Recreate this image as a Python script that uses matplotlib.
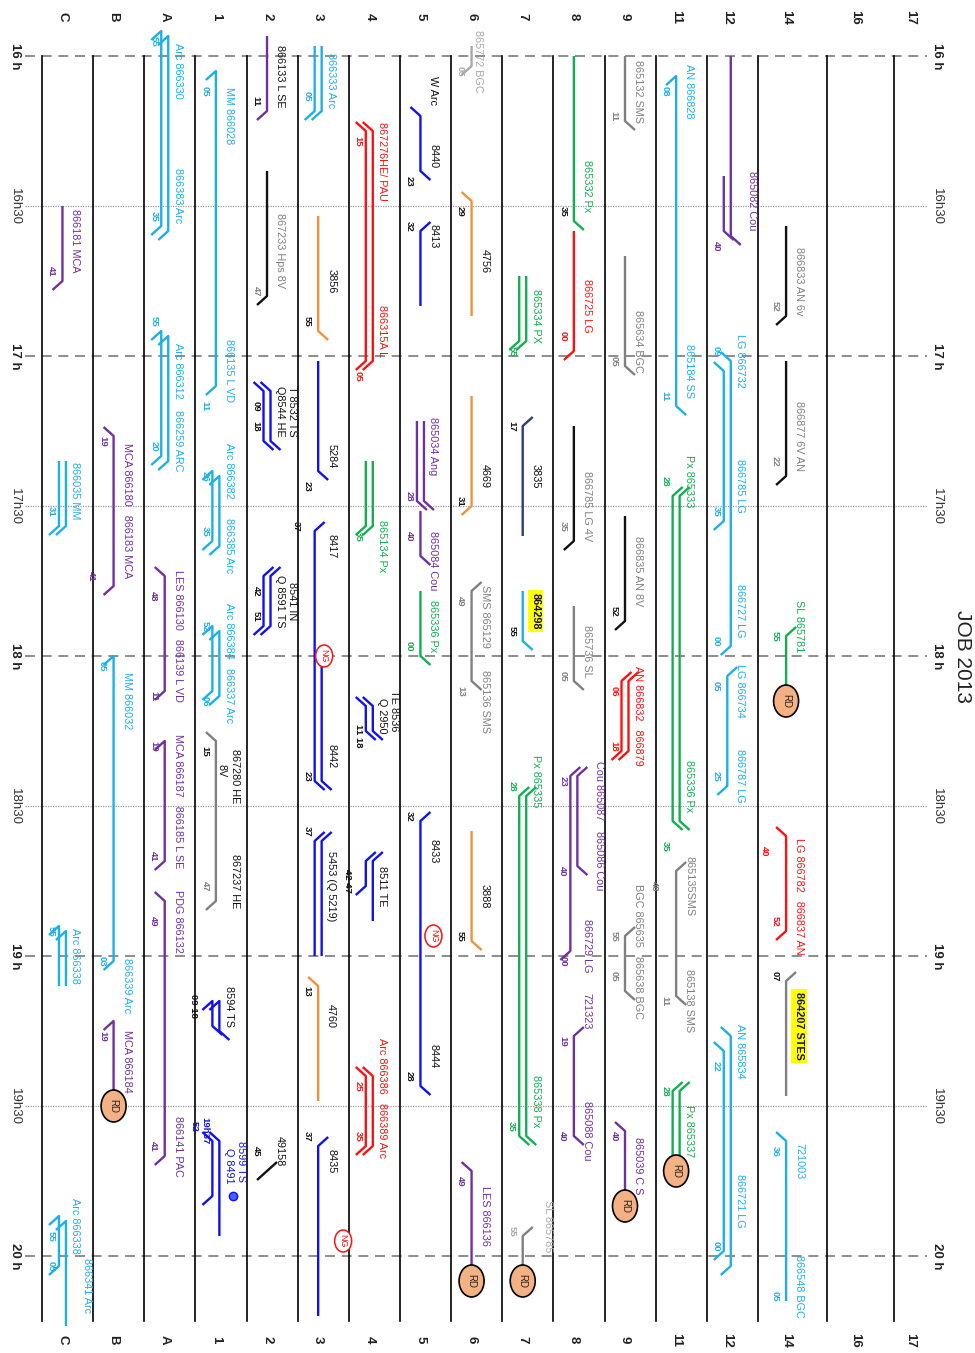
import matplotlib
matplotlib.use("Agg")
import matplotlib.pyplot as plt
from matplotlib.patches import Ellipse

plt.rcParams['font.family'] = ['Liberation Sans', 'DejaVu Sans']

# ---------------- data ----------------
tracks = ['C', 'B', 'A', '1', '2', '3', '4', '5', '6', '7', '8', '9', '11', '12', '14', '16', '17']
hours = ['16:00', '17:00', '18:00', '19:00', '20:00']
hour_labels = ['16 h', '17 h', '18 h', '19 h', '20 h']
half_hours = ['16:30', '17:30', '18:30', '19:30']
half_labels = ['16h30', '17h30', '18h30', '19h30']
title = 'JOB 2013'
grid_end = '20:13'

# (track, lane, start, end, colour, start hook, end hook)
trains = [
    ('C', 0, '16:30', '16:45', 'pu', '', 'dl'),
    ('C', -1, '17:21', '17:34', 'cy', '', 'dl'),
    ('C', 1, '17:21', '17:34', 'cy', '', 'dl'),
    ('C', -1, '18:54', '19:06', 'cy', 'dl', ''),
    ('C', 1, '18:55', '19:06', 'cy', 'dl', ''),
    ('C', -1, '19:52', '20:02', 'cy', 'dl', 'dl'),
    ('C', 1, '19:53', '20:14', 'cy', 'dl', ''),
    ('B', 0, '17:16', '17:46', 'pu', 'ul', 'dl'),
    ('B', 0, '18:00', '19:01', 'cy', 'dl', 'dl'),
    ('B', 0, '19:13', '19:30', 'pu', 'dl', ''),
    ('A', -1, '15:55', '16:34', 'cy', 'dl', 'dl'),
    ('A', 1, '15:56', '16:35', 'cy', 'dl', 'dl'),
    ('A', -1, '16:55', '17:20', 'cy', 'dl', 'dl'),
    ('A', 1, '16:56', '17:21', 'cy', 'dl', 'dl'),
    ('A', 0, '17:44', '18:07', 'pu', 'ul', 'dl'),
    ('A', 0, '18:17', '18:41', 'pu', 'dl', 'dl'),
    ('A', 0, '18:49', '19:40', 'pu', 'ul', 'dl'),
    ('1', 0, '16:03', '17:06', 'cy', 'dl', 'dl'),
    ('1', -1, '17:23', '17:37', 'cy', 'dl', 'dl'),
    ('1', 1, '17:24', '17:38', 'cy', 'dl', 'dl'),
    ('1', -1, '17:54', '18:07', 'cy', 'dl', 'dl'),
    ('1', 1, '17:55', '18:08', 'cy', 'dl', 'dl'),
    ('1', 0, '18:17', '18:49', 'gy', 'ul', 'dl'),
    ('1', -1, '19:09', '19:14', 'bl', 'dl', 'dr'),
    ('1', 1, '19:09', '19:15', 'bl', 'dl', 'dr'),
    ('1', -1, '19:37', '19:48', 'bl', 'ul', 'dl'),
    ('1', 1, '19:37', '19:56', 'bl', 'ul', ''),
    ('2', 0, '15:56', '16:11', 'pu', '', 'dl'),
    ('2', 0, '16:23', '16:48', 'bk', '', 'dl'),
    ('2', -1, '17:07', '17:17', 'bl', 'ul', 'dr'),
    ('2', 1, '17:07', '17:17', 'bl', 'ul', 'dr'),
    ('2', -1, '17:44', '17:54', 'bl', 'ur', 'dl'),
    ('2', 1, '17:44', '17:54', 'bl', 'ur', 'dl'),
    ('2', 0, '19:43', '19:43', 'bk', 'ur', 'dl'),
    ('3', -1, '15:58', '16:11', 'cy', '', 'dl'),
    ('3', 1, '15:58', '16:11', 'cy', '', 'dl'),
    ('3', 0, '16:32', '16:55', 'or', '', 'dr'),
    ('3', 0, '17:01', '17:23', 'bl', '', 'dr'),
    ('3', -1, '17:35', '18:25', 'bl', 'ur', 'dr'),
    ('3', 1, '18:00', '18:25', 'bl', '', 'dr'),
    ('3', -1, '18:37', '19:00', 'bl', 'ur', ''),
    ('3', 1, '18:37', '19:00', 'bl', 'ur', ''),
    ('3', 0, '19:06', '19:29', 'or', 'ul', ''),
    ('3', 0, '19:38', '20:12', 'bl', 'ur', ''),
    ('4', -1, '16:15', '17:01', 're', 'ul', 'dl'),
    ('4', 1, '16:15', '17:01', 're', 'ul', 'dl'),
    ('4', -1, '17:21', '17:34', 'gr', '', 'dl'),
    ('4', 1, '17:21', '17:34', 'gr', '', 'dl'),
    ('4', -1, '18:10', '18:15', 'bl', 'ul', 'dr'),
    ('4', 1, '18:10', '18:15', 'bl', 'ul', 'dr'),
    ('4', -1, '18:41', '18:46', 'bl', 'ur', 'dl'),
    ('4', 1, '18:41', '18:53', 'bl', 'ur', ''),
    ('4', -1, '19:24', '19:38', 're', 'ul', 'dl'),
    ('4', 1, '19:24', '19:38', 're', 'ul', 'dl'),
    ('5', 0, '16:12', '16:23', 'bl', 'ul', 'dr'),
    ('5', 0, '16:35', '16:50', 'bl', 'ur', ''),
    ('5', -1, '17:13', '17:29', 'pu', '', 'dr'),
    ('5', 1, '17:13', '17:29', 'pu', '', 'dr'),
    ('5', 0, '17:31', '17:40', 'pu', '', 'dr'),
    ('5', 0, '17:47', '18:00', 'gr', '', 'dr'),
    ('5', 0, '18:33', '19:26', 'bl', 'ur', 'dr'),
    ('6', 0, '15:58', '16:02', 'lg', '', 'dl'),
    ('6', 0, '16:29', '16:52', 'or', 'ul', ''),
    ('6', 0, '17:08', '17:30', 'or', '', 'dl'),
    ('6', 0, '17:47', '18:05', 'gy', 'ur', 'dr'),
    ('6', 0, '18:35', '18:57', 'or', '', 'dr'),
    ('6', 0, '19:43', '20:05', 'pu', 'ul', ''),
    ('7', -1, '16:44', '16:57', 'gr', '', 'dl'),
    ('7', 1, '16:44', '16:57', 'gr', '', 'dl'),
    ('7', 0, '17:14', '17:36', 'nv', 'ur', ''),
    ('7', 0, '17:47', '17:57', 'cy', '', 'dr'),
    ('7', -1, '18:28', '19:36', 'gr', 'ur', 'dr'),
    ('7', 1, '18:28', '19:36', 'gr', 'ur', 'dr'),
    ('7', 0, '19:56', '20:05', 'gy', 'ur', ''),
    ('8', 0, '16:00', '16:33', 'gr', '', 'dr'),
    ('8', 0, '16:35', '16:59', 're', '', 'dl'),
    ('8', 0, '17:14', '17:37', 'bk', '', 'dl'),
    ('8', 0, '17:50', '18:05', 'gy', '', 'dr'),
    ('8', 1, '18:24', '18:42', 'pu', 'ur', 'dr'),
    ('8', -1, '18:24', '18:59', 'pu', 'ur', 'dl'),
    ('8', 0, '19:16', '19:36', 'pu', 'ur', 'dr'),
    ('9', 0, '16:00', '16:13', 'gy', '', 'dr'),
    ('9', 0, '16:40', '17:02', 'gy', '', 'dr'),
    ('9', 0, '17:32', '17:53', 'bk', '', 'dl'),
    ('9', -1, '18:05', '18:19', 're', 'ur', 'dl'),
    ('9', 1, '18:05', '18:19', 're', 'ur', 'dl'),
    ('9', 0, '18:56', '19:07', 'gy', 'ur', 'dr'),
    ('9', 0, '19:35', '19:50', 'pu', 'ul', ''),
    ('11', 0, '16:04', '17:10', 'cy', 'dl', 'dr'),
    ('11', -1, '17:28', '18:33', 'gr', 'ur', 'dr'),
    ('11', 1, '17:28', '18:33', 'gr', 'ur', 'dr'),
    ('11', 0, '18:43', '19:08', 'gy', 'ur', 'dr'),
    ('11', -1, '19:27', '19:43', 'gr', 'ur', ''),
    ('11', 1, '19:27', '19:43', 'gr', 'ur', ''),
    ('12', 1, '16:00', '16:36', 'pu', '', 'dr'),
    ('12', -1, '16:24', '16:35', 'pu', '', 'dr'),
    ('12', -1, '17:03', '17:33', 'cy', 'ul', 'dl'),
    ('12', 1, '17:01', '17:58', 'cy', 'ul', 'dl'),
    ('12', 0, '18:04', '18:26', 'cy', 'ur', 'dl'),
    ('12', -1, '19:19', '19:59', 'cy', 'ul', 'dl'),
    ('12', 1, '19:16', '20:02', 'cy', 'ul', 'dl'),
    ('14', 0, '16:34', '16:52', 'bk', '', 'dl'),
    ('14', 0, '17:01', '17:24', 'bk', '', 'dl'),
    ('14', 0, '17:56', '18:09', 'gr', 'ur', ''),
    ('14', 0, '18:36', '18:55', 're', 'ul', 'dl'),
    ('14', 0, '19:05', '19:28', 'gy', 'ur', ''),
    ('14', 0, '19:37', '20:09', 'cy', 'ul', ''),
]

# (track, time, text, colour, side)
names = [
    ('C', '16:37', '866181 MCA', 'pu', 'R'),
    ('C', '17:27', '866035 MM', 'cy', 'R'),
    ('C', '19:00', 'Arc 866338', 'cy', 'R'),
    ('C', '19:54', 'Arc 866338', 'cy', 'R'),
    ('C', '20:06', '866341 Arc', 'cy', 'RR'),
    ('B', '17:31', 'MCA 866180   866183 MCA', 'pu', 'R'),
    ('B', '18:09', 'MM 866032', 'cy', 'R'),
    ('B', '19:06', '866339 Arc', 'cy', 'R'),
    ('B', '19:21', 'MCA 866184', 'pu', 'R'),
    ('A', '16:03', 'Arc 866330', 'cy', 'R'),
    ('A', '16:28', '866383 Arc', 'cy', 'R'),
    ('A', '17:03', 'Arc 866312', 'cy', 'R'),
    ('A', '17:17', '866259 ARC', 'cy', 'R'),
    ('A', '17:56', 'LES 866130   866139 L VD', 'pu', 'R'),
    ('A', '18:29', 'MCA 866187   866185 L SE', 'pu', 'R'),
    ('A', '18:53', 'PDG 866132', 'pu', 'R'),
    ('A', '19:38', '866141 PAC', 'pu', 'R'),
    ('1', '16:12', 'MM 866028', 'cy', 'R'),
    ('1', '17:03', '866135 L VD', 'cy', 'R'),
    ('1', '17:23', 'Arc 866382', 'cy', 'R'),
    ('1', '17:38', '866385 Arc', 'cy', 'R'),
    ('1', '17:55', 'Arc 866384', 'cy', 'R'),
    ('1', '18:08', '866337 Arc', 'cy', 'R'),
    ('1', '18:24', '867280 HE', 'bk', 'RM'),
    ('1', '18:23', '8V', 'bk', 'S'),
    ('1', '18:45', '867237 HE', 'bk', 'RM'),
    ('1', '19:10', '8594 TS', 'bk', 'R'),
    ('1', '19:41', '8599 TS', 'bl', 'RR'),
    ('1', '19:42', 'Q 8491', 'bl', 'R'),
    ('2', '16:04', '866133 L SE', 'bk', 'R'),
    ('2', '16:39', '867233 Hps 8V', 'gy', 'R'),
    ('2', '17:11', 'Q8544 HE', 'bk', 'R'),
    ('2', '17:11', 'T 8532 TS', 'bk', 'RR'),
    ('2', '17:49', 'Q 8591 TS', 'bk', 'R'),
    ('2', '17:49', '8541 IN', 'bk', 'RR'),
    ('2', '19:39', '49158', 'bk', 'R'),
    ('3', '16:05', '866333 Arc', 'cy', 'R'),
    ('3', '16:45', '3856', 'bk', 'R'),
    ('3', '17:20', '5284', 'bk', 'R'),
    ('3', '17:38', '8417', 'bk', 'R'),
    ('3', '18:20', '8442', 'bk', 'R'),
    ('3', '18:46', '5453 (Q 5219)', 'bk', 'R'),
    ('3', '19:12', '4760', 'bk', 'R'),
    ('3', '19:41', '8435', 'bk', 'R'),
    ('4', '16:21', '867276HE/ PAU', 're', 'R'),
    ('4', '16:55', '866315A L', 're', 'R'),
    ('4', '17:38', '865134 Px', 'gr', 'R'),
    ('4', '18:11', 'TE 8536', 'bk', 'RR'),
    ('4', '18:12', 'Q 2950', 'bk', 'R'),
    ('4', '18:46', '8511 TE', 'bk', 'R'),
    ('4', '19:22', 'Arc 866386', 're', 'R'),
    ('4', '19:35', '866389 Arc', 're', 'R'),
    ('5', '16:07', 'W Arc', 'bk', 'R'),
    ('5', '16:20', '8440', 'bk', 'R'),
    ('5', '16:36', '8413', 'bk', 'R'),
    ('5', '17:18', '865034 Ang', 'pu', 'R'),
    ('5', '17:41', '865084 Cou', 'pu', 'R'),
    ('5', '17:54', '865336 Px', 'gr', 'R'),
    ('5', '18:39', '8433', 'bk', 'R'),
    ('5', '19:20', '8444', 'bk', 'R'),
    ('6', '16:01', '865772 BGC', 'lg', 'S'),
    ('6', '16:41', '4756', 'bk', 'R'),
    ('6', '17:24', '4669', 'bk', 'R'),
    ('6', '17:52', 'SMS 865129', 'gy', 'R'),
    ('6', '18:09', '865136 SMS', 'gy', 'R'),
    ('6', '18:48', '3888', 'bk', 'R'),
    ('6', '19:52', 'LES 866136', 'pu', 'R'),
    ('7', '16:52', '865334 PX', 'gr', 'R'),
    ('7', '17:24', '3835', 'bk', 'R'),
    ('7', '18:25', 'Px 865335', 'gr', 'R'),
    ('7', '19:29', '865338 Px', 'gr', 'R'),
    ('7', '19:54', 'SL 865785', 'lg', 'RR'),
    ('8', '16:26', '865332 Px', 'gr', 'R'),
    ('8', '16:50', '866725 LG', 're', 'R'),
    ('8', '17:30', '866785 LG 4V', 'gy', 'R'),
    ('8', '17:59', '865736 SL', 'gy', 'R'),
    ('8', '18:27', 'Cou 865087', 'pu', 'RR'),
    ('8', '18:41', '865086 Cou', 'pu', 'RR'),
    ('8', '18:58', '866729 LG', 'pu', 'R'),
    ('8', '19:11', '721323', 'pu', 'R'),
    ('8', '19:35', '865088 Cou', 'pu', 'R'),
    ('9', '16:07', '865132 SMS', 'gy', 'R'),
    ('9', '16:57', '865634 BGC', 'gy', 'R'),
    ('9', '17:43', '866835 AN 8V', 'gy', 'R'),
    ('9', '18:12', 'AN 866832   866879', 're', 'R'),
    ('9', '18:59', 'BGC 865635   865638 BGC', 'gy', 'R'),
    ('9', '19:42', '865039 C S', 'pu', 'R'),
    ('11', '16:07', 'AN 866828', 'cy', 'R'),
    ('11', '17:03', '865184 SS', 'cy', 'R'),
    ('11', '17:25', 'Px 865333', 'gr', 'R'),
    ('11', '18:26', '865336 Px', 'gr', 'R'),
    ('11', '18:46', '865135SMS', 'gy', 'R'),
    ('11', '19:09', '865138 SMS', 'gy', 'R'),
    ('11', '19:35', 'Px 865337', 'gr', 'R'),
    ('12', '16:29', '865082 Cou', 'pu', 'RR'),
    ('12', '17:01', 'LG 866732', 'cy', 'R'),
    ('12', '17:26', '866785 LG', 'cy', 'R'),
    ('12', '17:51', '866727 LG', 'cy', 'R'),
    ('12', '18:07', 'LG 866734', 'cy', 'R'),
    ('12', '18:24', '866787 LG', 'cy', 'R'),
    ('12', '19:19', 'AN 865834', 'cy', 'R'),
    ('12', '19:49', '866721 LG', 'cy', 'R'),
    ('14', '16:45', '866833 AN 6v', 'gy', 'R'),
    ('14', '17:16', '866877 6V AN', 'gy', 'R'),
    ('14', '17:54', 'SL 865781', 'gr', 'R'),
    ('14', '18:48', 'LG 866782   866837 AN', 're', 'R'),
    ('14', '19:41', '721003', 'cy', 'R'),
    ('14', '20:06', '866548 BGC', 'cy', 'R'),
]

# highlighted names (yellow box)
highlights = [
    ('7', '17:51', '864298', 'bk', 'R'),
    ('14', '19:14', '864207 STES', 'bk', 'R'),
]

# minute marks: (track, time, text, colour, side)
minutes = [
    ('C', '16:43', '41', 'pu', 'L'), ('C', '17:31', '31', 'cy', 'L'),
    ('C', '18:55', '55', 'cy', 'L'), ('C', '19:56', '55', 'cy', 'L'),
    ('C', '20:02', '05', 'cy', 'L'),
    ('B', '17:17', '19', 'pu', 'L'), ('B', '17:44', '41', 'pu', 'LL'),
    ('B', '18:02', '05', 'cy', 'L'), ('B', '19:01', '03', 'cy', 'L'),
    ('B', '19:16', '19', 'pu', 'L'),
    ('A', '15:57', '55', 'cy', 'L'), ('A', '16:32', '35', 'cy', 'L'),
    ('A', '16:53', '55', 'cy', 'L'), ('A', '17:18', '20', 'cy', 'L'),
    ('A', '17:48', '48', 'pu', 'L'), ('A', '18:08', '11', 'pu', 'L'),
    ('A', '18:18', '19', 'pu', 'L'), ('A', '18:40', '41', 'pu', 'L'),
    ('A', '18:53', '49', 'pu', 'L'), ('A', '19:38', '41', 'pu', 'L'),
    ('1', '16:07', '05', 'cy', 'L'), ('1', '17:10', '11', 'cy', 'L'),
    ('1', '17:24', '26', 'cy', 'L'), ('1', '17:35', '35', 'cy', 'L'),
    ('1', '17:54', '52', 'cy', 'L'), ('1', '18:09', '06', 'cy', 'L'),
    ('1', '18:19', '15', 'bk', 'L'), ('1', '18:46', '47', 'gy', 'L'),
    ('1', '19:10', '09 18', 'bk', 'LL'), ('1', '19:35', '19h37', 'bl', 'L'),
    ('1', '19:34', '52', 'bl', 'LL'),
    ('2', '16:09', '11', 'bk', 'L'), ('2', '16:47', '47', 'gy', 'L'),
    ('2', '17:10', '09', 'bk', 'L'), ('2', '17:14', '18', 'bk', 'L'),
    ('2', '17:47', '42', 'bk', 'L'), ('2', '17:52', '51', 'bk', 'L'),
    ('2', '19:39', '45', 'bk', 'L'),
    ('3', '16:08', '05', 'cy', 'L'), ('3', '16:53', '55', 'bk', 'L'),
    ('3', '17:26', '23', 'bk', 'L'), ('3', '17:34', '37', 'bk', 'LL'),
    ('3', '18:24', '23', 'bk', 'L'), ('3', '18:35', '37', 'bk', 'L'),
    ('3', '19:07', '13', 'bk', 'L'), ('3', '19:36', '37', 'bk', 'L'),
    ('4', '16:17', '15', 're', 'L'), ('4', '17:04', '05', 're', 'L'),
    ('4', '17:36', '35', 'gr', 'L'), ('4', '18:16', '11 18', 'bk', 'L'),
    ('4', '18:45', '42 47', 'bk', 'LL'), ('4', '19:26', '25', 're', 'L'),
    ('4', '19:36', '35', 're', 'L'),
    ('5', '16:25', '23', 'bk', 'L'), ('5', '16:34', '32', 'bk', 'L'),
    ('5', '17:28', '28', 'pu', 'L'), ('5', '17:36', '40', 'pu', 'L'),
    ('5', '17:58', '00', 'gr', 'L'), ('5', '18:32', '32', 'bk', 'L'),
    ('5', '19:24', '28', 'bk', 'L'),
    ('6', '16:03', '05', 'lg', 'L'), ('6', '16:31', '29', 'bk', 'L'),
    ('6', '17:29', '31', 'bk', 'L'), ('6', '17:49', '49', 'gy', 'L'),
    ('6', '18:07', '13', 'gy', 'L'), ('6', '18:56', '55', 'bk', 'L'),
    ('6', '19:45', '49', 'pu', 'L'),
    ('7', '16:59', '55', 'gr', 'L'), ('7', '17:14', '17', 'bk', 'L'),
    ('7', '17:55', '55', 'bk', 'L'), ('7', '18:26', '28', 'gr', 'L'),
    ('7', '19:34', '35', 'gr', 'L'), ('7', '19:55', '55', 'lg', 'L'),
    ('8', '16:31', '35', 'bk', 'L'), ('8', '16:56', '00', 're', 'L'),
    ('8', '17:34', '35', 'gy', 'L'), ('8', '18:04', '05', 'gy', 'L'),
    ('8', '18:25', '23', 'pu', 'L'), ('8', '18:43', '40', 'pu', 'L'),
    ('8', '19:01', '00', 'pu', 'L'), ('8', '19:17', '19', 'pu', 'L'),
    ('8', '19:36', '40', 'pu', 'L'),
    ('9', '16:12', '11', 'gy', 'L'), ('9', '17:01', '05', 'gy', 'L'),
    ('9', '17:51', '52', 'bk', 'L'), ('9', '18:07', '06', 're', 'L'),
    ('9', '18:18', '18', 're', 'L'), ('9', '18:56', '55', 'gy', 'L'),
    ('9', '19:04', '05', 'gy', 'L'), ('9', '19:36', '40', 'pu', 'L'),
    ('11', '16:07', '08', 'cy', 'L'), ('11', '17:08', '11', 'cy', 'L'),
    ('11', '17:25', '28', 'gr', 'L'), ('11', '18:38', '35', 'gr', 'L'),
    ('11', '18:46', '48', 'gy', 'LL'), ('11', '19:09', '11', 'gy', 'L'),
    ('11', '19:27', '28', 'gr', 'L'),
    ('12', '16:38', '40', 'pu', 'L'), ('12', '16:59', '09', 'cy', 'L'),
    ('12', '17:31', '35', 'cy', 'L'), ('12', '17:57', '00', 'cy', 'L'),
    ('12', '18:06', '05', 'cy', 'L'), ('12', '18:24', '25', 'cy', 'L'),
    ('12', '19:22', '22', 'cy', 'L'), ('12', '19:58', '00', 'cy', 'L'),
    ('14', '16:50', '52', 'gy', 'L'), ('14', '17:21', '22', 'gy', 'L'),
    ('14', '17:56', '55', 'gr', 'L'), ('14', '18:39', '40', 're', 'LL'),
    ('14', '18:53', '52', 're', 'L'), ('14', '19:04', '07', 'bk', 'L'),
    ('14', '19:39', '36', 'cy', 'L'), ('14', '20:08', '05', 'cy', 'L'),
]

rd_marks = [('B', '19:30'), ('6', '20:05'), ('7', '20:05'), ('9', '19:50'),
            ('11', '19:43'), ('14', '18:09')]
ng_marks = [('3', '18:00', 'S'), ('5', '18:56', 'R'), ('3', '19:57', 'RR')]
dot_marks = [('1', '19:48')]

# ---------------- style / layout ----------------
colours = {'cy': '#1CB0E8', 'pu': '#7030A0', 're': '#FF1010', 'gr': '#10B050',
           'bl': '#1010F0', 'or': '#F0923A', 'bk': '#111111', 'gy': '#808080',
           'lg': '#A8A8A8', 'nv': '#2A4070'}
text_colours = dict(colours)

W_PX, H_PX = 975, 1353
PX = 51.14            # pixels per track slot
X0_PX, Y0_PX, PX_PER_MIN = 42.0, 56.0, 5.0
slot_w = [1.0] * 14 + [1.35, 1.31, 1.0]
centre_off = [0.40] * 14 + [0.55, 0.55, 0.31]
HX, HY = 10 / PX, 1.8
LANE = 3.5 / PX
SIDE = {'S': 6 / PX, 'R': 13 / PX, 'RM': 19 / PX, 'RR': 25 / PX,
        'L': -11 / PX, 'LL': -22 / PX, 'C': 0.0}
NAME_FS, MIN_FS = 7.8, 6.8

seps = []
acc = 0.0
for w in slot_w:
    seps.append(acc)
    acc += w
centre = {t: seps[i] + centre_off[i] for i, t in enumerate(tracks)}


def T(s):
    h, m = s.split(':')
    return (int(h) - 16) * 60 + int(m)


fig = plt.figure(figsize=(W_PX / 100, H_PX / 100), dpi=100)
ax = fig.add_axes([0, 0, 1, 1])
ax.set_xlim(-X0_PX / PX, (W_PX - X0_PX) / PX)
ax.set_ylim((H_PX - Y0_PX) / PX_PER_MIN, -Y0_PX / PX_PER_MIN)
ax.axis('off')

x_left, x_right = (25 - X0_PX) / PX, (927 - X0_PX) / PX
for h in hours:
    ax.plot([x_left, x_right], [T(h), T(h)], color='#7a7a7a', lw=1.2,
            dashes=(6, 4), zorder=1)
for h in half_hours:
    ax.plot([x_left, x_right], [T(h), T(h)], color='#9a9a9a', lw=0.9,
            ls=(0, (1, 1)), zorder=1)
for s in seps:
    ax.plot([s, s], [T('16:00'), T(grid_end)], color='black', lw=1.2, zorder=2)

# time labels
for h, lab in zip(hours, hour_labels):
    for xp in (15, 937):
        ax.text((xp - X0_PX) / PX, T(h), lab, rotation=-90, ha='center', va='center',
                fontsize=9.5, fontweight='bold', color='#222')
for h, lab in zip(half_hours, half_labels):
    for xp in (15, 937):
        ax.text((xp - X0_PX) / PX, T(h), lab, rotation=-90, ha='center', va='center',
                fontsize=9.5, color='#333')

# track labels
for t in tracks:
    for y_px in (17, 1340):
        ax.text(centre[t], (y_px - Y0_PX) / PX_PER_MIN, t, rotation=-90, ha='center',
                va='center', fontsize=9.5, fontweight='bold', color='#222')

ax.text((962 - X0_PX) / PX, T('18:00'), title, rotation=-90, ha='center', va='center',
        fontsize=15, color='#222')


def hook_pt(x, t, code):
    dx = -HX if code[1] == 'l' else HX
    dy = -HY if code[0] == 'u' else HY
    return (x + dx, t + dy)


for trk, lane, t0, t1, col, h0, h1 in trains:
    x = centre[trk] + lane * LANE
    xs, ys = [], []
    if h0:
        px_, py_ = hook_pt(x, T(t0), h0)
        xs.append(px_); ys.append(py_)
    xs += [x, x]; ys += [T(t0), T(t1)]
    if h1:
        px_, py_ = hook_pt(x, T(t1), h1)
        xs.append(px_); ys.append(py_)
    ax.plot(xs, ys, color=colours[col], lw=1.7, solid_capstyle='butt', zorder=3)

for trk, t, txt, col, side in names:
    ax.text(centre[trk] + SIDE[side], T(t), txt, rotation=-90, ha='center', va='center',
            fontsize=NAME_FS, color=text_colours[col], zorder=5)
for trk, t, txt, col, side in highlights:
    ax.text(centre[trk] + SIDE[side], T(t), txt, rotation=-90, ha='center', va='center',
            fontsize=NAME_FS, fontweight='bold', color=text_colours[col], zorder=5,
            bbox=dict(boxstyle='square,pad=0.25', facecolor='#FFFF00', edgecolor='none'))
for trk, t, txt, col, side in minutes:
    ax.text(centre[trk] + SIDE[side], T(t), txt, rotation=-90, ha='center', va='center',
            fontsize=MIN_FS, fontweight='bold', color=text_colours[col], zorder=5)

for trk, t in rd_marks:
    x = centre[trk]
    ax.add_patch(Ellipse((x, T(t)), 25 / PX, 32 / PX_PER_MIN, facecolor='#F4B183',
                         edgecolor='black', lw=1.2, zorder=6))
    ax.text(x, T(t), 'RD', rotation=-90, ha='center', va='center', fontsize=7,
            color='#222', zorder=7)
for trk, t, side in ng_marks:
    x = centre[trk] + SIDE[side]
    ax.add_patch(Ellipse((x, T(t)), 17 / PX, 22 / PX_PER_MIN, facecolor='white',
                         edgecolor='#FF1010', lw=1.1, zorder=6))
    ax.text(x, T(t), 'NG', rotation=-90, ha='center', va='center', fontsize=6.5,
            color='#FF1010', zorder=7)
for trk, t in dot_marks:
    ax.plot([centre[trk] + 17 / PX], [T(t)], 'o', ms=6, color='#1010F0',
            mec='#1010F0', mfc='#4060FF', zorder=6)

fig.savefig('out.png', dpi=100)
